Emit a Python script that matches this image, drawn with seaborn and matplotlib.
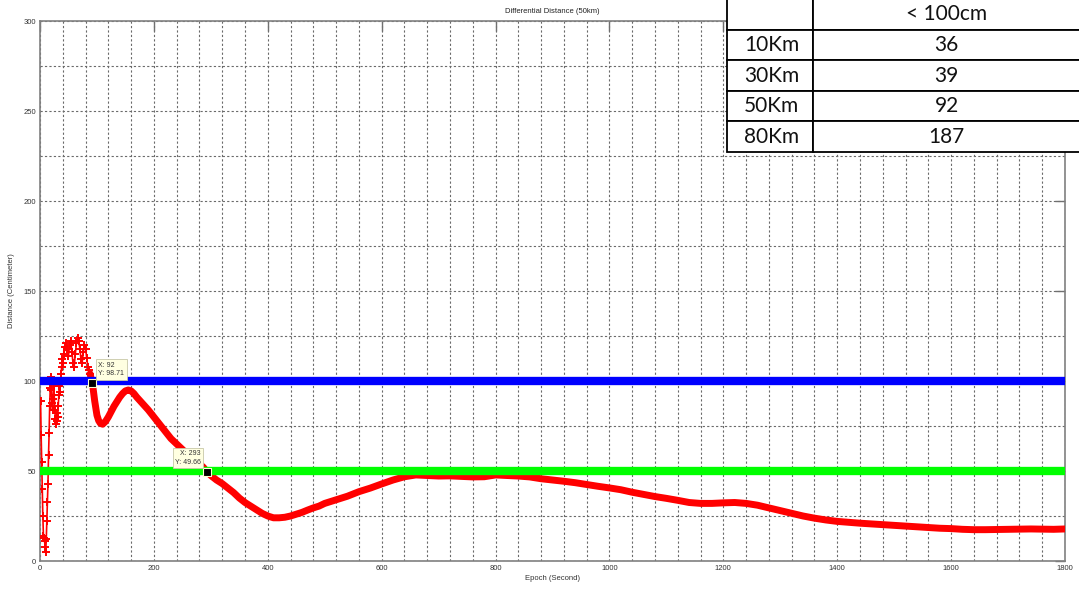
import pandas as pd
import matplotlib
matplotlib.use("Agg")
import matplotlib.pyplot as plt
import seaborn as sns
from matplotlib.ticker import MultipleLocator
from matplotlib.table import Table

# Red curve: differential distance per epoch
epoch = [1, 2, 3, 4, 5, 6, 7, 8, 9, 10, 11, 12, 13, 14, 15, 16, 17, 18, 19,
         20, 21, 22, 23, 24, 25, 26, 27, 28, 29, 30, 31, 32, 33, 34, 35, 36, 37, 38, 39,
         40, 42, 44, 46, 48, 50, 52, 54, 56, 58, 60, 62, 64, 66, 68, 70, 72, 74, 76, 78,
         80, 82, 84, 86, 88, 90, 92, 94, 96, 98, 100, 103, 106, 110, 115, 120, 125, 130,
         135, 140, 145, 150, 155, 160, 165, 170, 180, 190, 200, 210, 220, 230, 240, 250,
         260, 270, 280, 287, 293, 300, 310, 320, 330, 340, 350, 360, 370, 380, 390, 400,
         410, 420, 430, 440, 450, 460, 470, 480, 490, 500, 520, 540, 560, 580, 600, 620,
         640, 660, 680, 700, 720, 740, 760, 780, 800, 820, 840, 860, 880, 900, 920, 940,
         960, 980, 1000, 1020, 1040, 1060, 1080, 1100, 1120, 1140, 1160, 1180, 1200, 1220,
         1240, 1260, 1280, 1300, 1320, 1340, 1360, 1380, 1400, 1420, 1440, 1460, 1480,
         1500, 1520, 1540, 1560, 1580, 1600, 1620, 1640, 1660, 1680, 1700, 1720, 1740,
         1760, 1780, 1800]
distance = [89, 70, 55, 40, 25, 14, 13, 11, 8, 5, 12, 22, 33, 43, 59, 71, 86, 96, 102,
            95, 88, 84, 90, 97, 92, 84, 79, 76, 78, 82, 80, 86, 92, 97, 94, 99, 104, 108, 112,
            110, 115, 119, 121, 118, 114, 120, 122, 116, 110, 108, 115, 121, 124, 122, 118, 112, 110, 116, 120,
            118, 113, 108, 106, 104, 101, 98.71, 94, 89, 85, 81, 78, 76.5, 76, 77.5, 80, 83, 86,
            88.5, 91, 93, 94.5, 95, 94.5, 93, 91, 87.5, 84, 80, 76, 72, 68, 65, 62,
            59, 56.5, 54, 52, 49.66, 47.5, 45, 43, 40.5, 38, 35, 32.5, 30.5, 28.5, 26.5, 25,
            24, 24, 24.3, 25, 26, 27, 28.3, 29.5, 30.5, 32, 34, 36, 38.5, 40.5, 42.8, 45,
            46.8, 47.8, 47.5, 47.2, 47.3, 47, 46.7, 46.8, 47.8, 47.5, 47.2, 46.7, 45.7, 45, 44.3, 43.5,
            42.5, 41.5, 40.6, 39.6, 38.2, 37, 35.8, 34.8, 33.7, 32.5, 32, 32, 32.3, 32.5,
            32, 31, 29.5, 28, 26.5, 25, 23.8, 22.8, 22, 21.5, 21, 20.6, 20.2,
            19.8, 19.4, 19, 18.6, 18.2, 18, 17.6, 17.4, 17.4, 17.5, 17.6, 17.7, 17.8,
            17.7, 17.6, 17.8]

# Threshold lines
ref_epoch = [0, 1800]
limit_100 = [100, 100]
limit_50 = [50, 50]

# Data tips
tip_x = [92, 293]
tip_y = [98.71, 49.66]

# Table in the upper right corner
table_head = "< 100cm"
table_rows = ["10Km", "30Km", "50Km", "80Km"]
table_vals = ["36", "39", "92", "187"]

sns.set_style("white")
plt.rcParams['font.family'] = ['Liberation Sans', 'DejaVu Sans']

fig = plt.figure(figsize=(10.79, 5.94), dpi=100)
ax = fig.add_axes([40 / 1079, 33 / 594, 1025 / 1079, 540 / 594])

df = pd.DataFrame({'epoch': epoch, 'dist': distance})
late = df[df['epoch'] >= 88]
early = df[df['epoch'] <= 92]

sns.lineplot(data=late, x='epoch', y='dist', color='red', lw=5, ax=ax, zorder=3)
sns.lineplot(data=early, x='epoch', y='dist', color='red', lw=1.2, marker='+',
             markersize=5.5, mew=1.4, mec='red', ax=ax, zorder=3)

sns.lineplot(x=ref_epoch, y=limit_100, color='#0000ff', lw=6, ax=ax, zorder=4)
sns.lineplot(x=ref_epoch, y=limit_50, color='#00ff00', lw=6, ax=ax, zorder=4)

# data tips
ax.scatter(tip_x, tip_y, marker='s', s=28, color='black', edgecolor='#ffffd0', lw=0.8, zorder=6)
for i, (tx, ty) in enumerate(zip(tip_x, tip_y)):
    off = (6, 6) if i == 0 else (-6, 6)
    ax.annotate(f"X: {tx}\nY: {ty}", xy=(tx, ty), xytext=off, textcoords='offset pixels',
                ha='left' if i == 0 else 'right', va='bottom', fontsize=5, color='#333333',
                linespacing=1.3,
                bbox=dict(boxstyle='square,pad=0.35', fc='#ffffe1', ec='#c8c8a8', lw=0.6),
                zorder=7)

ax.set_xlim(0, 1800)
ax.set_ylim(0, 300)
ax.xaxis.set_major_locator(MultipleLocator(200))
ax.xaxis.set_minor_locator(MultipleLocator(40))
ax.yaxis.set_major_locator(MultipleLocator(50))
ax.yaxis.set_minor_locator(MultipleLocator(25))
ax.grid(which='both', ls=(0, (2, 2)), color='#6a6a6a', lw=0.8)
ax.set_axisbelow(True)
ax.tick_params(which='major', direction='in', length=7, width=1, top=True, right=True,
               labelsize=5.5, labelcolor='#333333', color='#707070', pad=3)
ax.tick_params(which='minor', length=0)
for s in ax.spines.values():
    s.set_color('#808080')
    s.set_linewidth(1.2)

ax.set_title("Differential Distance (50km)", fontsize=5.5, pad=6, color='#222222')
ax.set_xlabel("Epoch (Second)", fontsize=5.5, labelpad=2, color='#333333')
ax.set_ylabel("Distance (Centimeter)", fontsize=5.5, labelpad=6, color='#333333')

# table overlay
tax = fig.add_axes([727 / 1079, (594 - 152) / 594, 353 / 1079, 153 / 594])
tax.axis('off')
tbl = Table(tax, bbox=[0, 0, 1, 1])
w0, w1 = 86 / 353, 267 / 353
h = 1 / 5
cells = [("", table_head)] + list(zip(table_rows, table_vals))
for r, (c0, c1) in enumerate(cells):
    a = tbl.add_cell(r, 0, w0, h, text=c0, loc='left', facecolor='white', edgecolor='black')
    b = tbl.add_cell(r, 1, w1, h, text=c1, loc='center', facecolor='white', edgecolor='black')
    a.PAD = 0.2
    for cell in (a, b):
        cell.set_linewidth(1.3)
        cell.get_text().set_fontfamily(['Lato', 'DejaVu Sans'])
        cell.get_text().set_fontsize(15)
        cell.get_text().set_color('#111111')
tbl.auto_set_font_size(False)
tax.add_table(tbl)

fig.savefig("out.png", dpi=100)
